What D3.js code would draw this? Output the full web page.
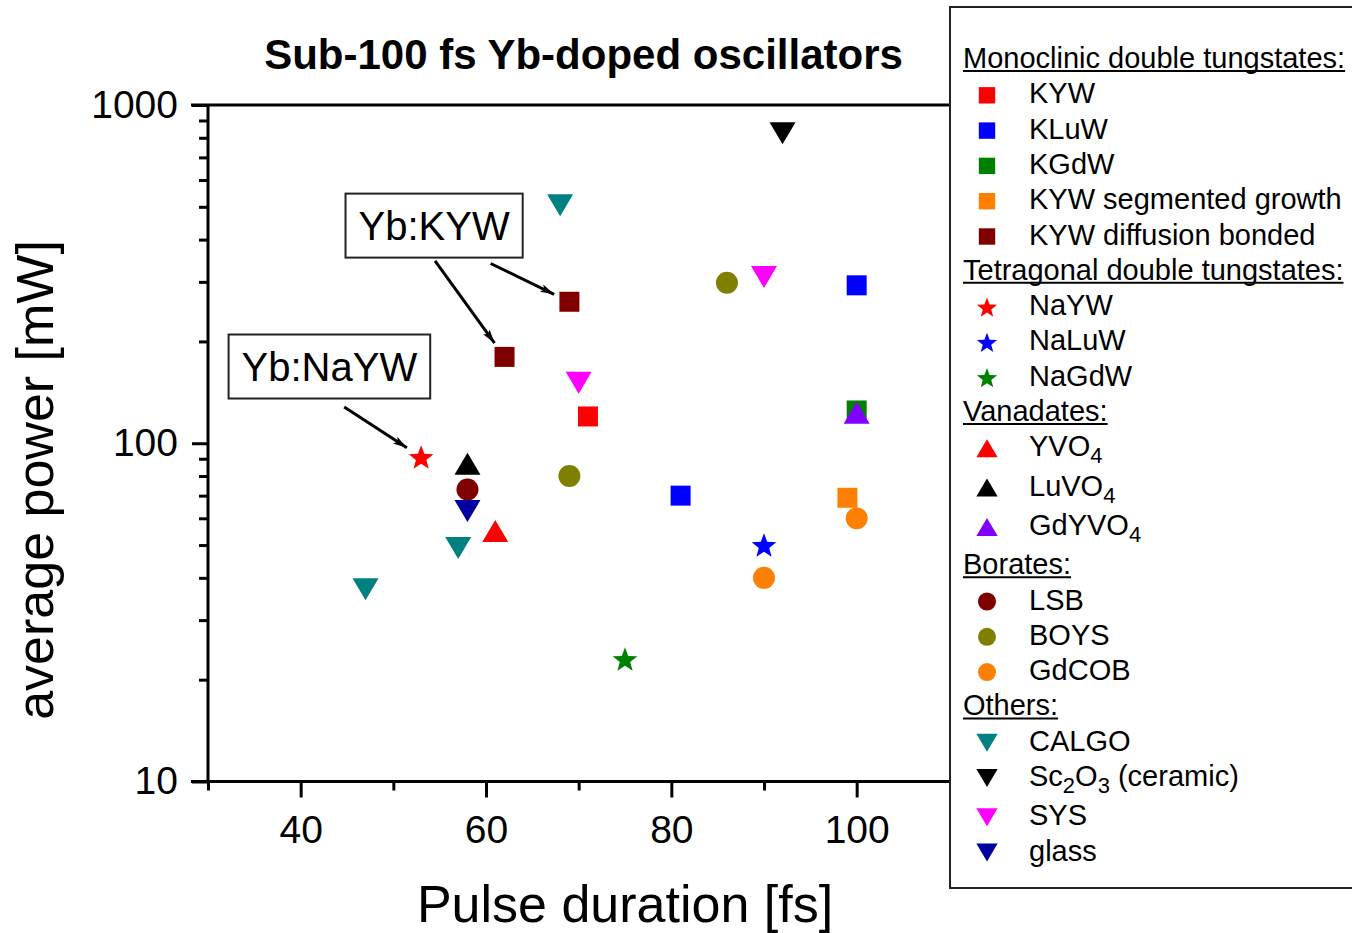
<!DOCTYPE html>
<html>
<head>
<meta charset="utf-8">
<script src="https://cdn.jsdelivr.net/npm/d3@7"></script>
<style>
  html, body { margin: 0; padding: 0; background: #fff; }
  svg { display: block; font-family: Arial, "Liberation Sans", sans-serif; }
</style>
</head>
<body>
<svg id="chart" width="1352" height="933"></svg>
<script>
// Series (legend order) and their measured points: pulse duration [fs], average power [mW]
const seriesNames = [
  "KYW", "KLuW", "KGdW", "KYW segmented growth", "KYW diffusion bonded",
  "NaYW", "NaLuW", "NaGdW",
  "YVO4", "LuVO4", "GdYVO4",
  "LSB", "BOYS", "GdCOB",
  "CALGO", "Sc2O3 (ceramic)", "SYS", "glass"
];
const seriesGroups = [
  "Monoclinic double tungstates:", "Monoclinic double tungstates:", "Monoclinic double tungstates:",
  "Monoclinic double tungstates:", "Monoclinic double tungstates:",
  "Tetragonal double tungstates:", "Tetragonal double tungstates:", "Tetragonal double tungstates:",
  "Vanadates:", "Vanadates:", "Vanadates:",
  "Borates:", "Borates:", "Borates:",
  "Others:", "Others:", "Others:", "Others:"
];
const seriesShapes = [
  "square", "square", "square", "square", "square",
  "star", "star", "star",
  "up", "up", "up",
  "circle", "circle", "circle",
  "down", "down", "down", "down"
];
const seriesColors = [
  "#ff0000", "#0000ff", "#008000", "#ff8000", "#800000",
  "#ff0000", "#0000ff", "#008000",
  "#ff0000", "#000000", "#8000ff",
  "#800000", "#808000", "#ff8000",
  "#008080", "#000000", "#ff00ff", "#0000a0"
];
const pulseFs = [
  [71], [81, 100], [100], [99], [62, 69],
  [53], [90], [75],
  [61], [58], [100],
  [58], [69, 86], [90, 100],
  [68, 57, 47], [92], [70, 90], [58]
];
const powerMw = [
  [120], [70, 293], [125], [69], [180, 262],
  [91], [50], [23],
  [55], [87], [123],
  [73], [80, 298], [40, 60],
  [505, 49, 37], [825], [151, 310], [63]
];

// Axis ticks (the part of the axis beyond 100 fs sits under the legend)
const xMajorTicks = [40, 60, 80, 100];
const xMinorTicks = [30, 50, 70, 90];
const yMajorTicks = [10, 100, 1000];
const yMinorTicks = [20, 30, 40, 50, 60, 70, 80, 90, 200, 300, 400, 500, 600, 700, 800, 900];

// Annotations: label box centre in data units, arrows from a tail point to a data point
const annoLabels = ["Yb:KYW", "Yb:NaYW"];
const annoX = [54.4, 43.1];
const annoY = [440, 168.6];
const arrowTailX = [54.5, 60.5, 44.7];
const arrowTailY = [346, 340, 128];
const arrowTargetX = [62, 69, 53];
const arrowTargetY = [180, 262, 91];

const svg = d3.select("#chart");
const plotL = 208, plotR = 1042, plotT = 105, plotB = 781.5;

const x = d3.scaleLinear().domain([30, 120]).range([plotL, plotR]);
const y = d3.scaleLog().domain([10, 1000]).range([plotB, plotT]);

// symbol outlines centred on (0,0)
function shapePath(shape, k) {
  if (shape === "square") {
    const s = 20 * k;
    return `M${-s/2},${-s/2}h${s}v${s}h${-s}Z`;
  }
  if (shape === "circle") {
    const r = 11 * k;
    return `M${-r},0a${r},${r} 0 1,0 ${2*r},0a${r},${r} 0 1,0 ${-2*r},0Z`;
  }
  if (shape === "up" || shape === "down") {
    const w = 26 * k, h = 22 * k, s = shape === "up" ? 1 : -1;
    return `M0,${-s*h/2}L${w/2},${s*h/2}L${-w/2},${s*h/2}Z`;
  }
  // five-pointed star
  const R = 13 * k, r = R * 0.42;
  const pts = [];
  for (let i = 0; i < 10; i++) {
    const a = -Math.PI / 2 + i * Math.PI / 5;
    const rr = i % 2 === 0 ? R : r;
    pts.push([rr * Math.cos(a), rr * Math.sin(a) + R * 0.09]);
  }
  return "M" + pts.map(p => p.join(",")).join("L") + "Z";
}

// Axes frame: top and right border
svg.append("line").attr("x1", plotL - 17).attr("x2", plotR).attr("y1", plotT).attr("y2", plotT)
  .attr("stroke", "#000").attr("stroke-width", 3);
svg.append("line").attr("x1", plotR).attr("x2", plotR).attr("y1", plotT).attr("y2", plotB)
  .attr("stroke", "#000").attr("stroke-width", 3);

// Bottom axis (major + minor)
const xAxisG = svg.append("g").attr("transform", `translate(0,${plotB})`);
xAxisG.call(d3.axisBottom(x).tickValues(xMajorTicks).tickSize(16).tickPadding(18).tickFormat(d3.format("d")));
const xMinorG = svg.append("g").attr("transform", `translate(0,${plotB})`);
xMinorG.call(d3.axisBottom(x).tickValues(xMinorTicks).tickSize(9).tickFormat(""));

// Left axis (major + minor)
const yAxisG = svg.append("g").attr("transform", `translate(${plotL},0)`);
yAxisG.call(d3.axisLeft(y).tickValues(yMajorTicks).tickSize(16).tickPadding(14).tickFormat(d3.format("d")));
const yMinorG = svg.append("g").attr("transform", `translate(${plotL},0)`);
yMinorG.call(d3.axisLeft(y).tickValues(yMinorTicks).tickSize(9).tickFormat(""));

[xAxisG, xMinorG, yAxisG, yMinorG].forEach(g => {
  g.select(".domain").attr("stroke-width", 3).attr("stroke", "#000");
  g.selectAll(".tick line").attr("stroke-width", 3).attr("stroke", "#000");
  g.selectAll(".tick text").attr("font-size", 39).attr("fill", "#000")
    .attr("font-family", "Arial, 'Liberation Sans', sans-serif");
});
xMinorG.select(".domain").remove();
yMinorG.select(".domain").remove();
// extend the axis lines under the corner ticks
xAxisG.select(".domain").attr("d", `M${plotL - 17},0H${plotR}`);
yAxisG.select(".domain").attr("d", `M0,${plotT}V${plotB}`);

// Data points
const points = [];
seriesNames.forEach((name, i) => {
  pulseFs[i].forEach((px, j) => points.push({ i, px, pw: powerMw[i][j] }));
});
svg.append("g").selectAll("path").data(points).join("path")
  .attr("d", d => shapePath(seriesShapes[d.i], 1))
  .attr("transform", d => `translate(${x(d.px)},${y(d.pw)})`)
  .attr("fill", d => seriesColors[d.i]);

// Annotation arrows
const defs = svg.append("defs");
defs.append("marker").attr("id", "head").attr("viewBox", "0 0 14 10")
  .attr("refX", 14).attr("refY", 5).attr("markerWidth", 14).attr("markerHeight", 10)
  .attr("markerUnits", "userSpaceOnUse").attr("orient", "auto")
  .append("path").attr("d", "M0,1L14,5L0,9L3,5Z").attr("fill", "#000");

arrowTailX.forEach((tx, k) => {
  const x0 = x(tx), y0 = y(arrowTailY[k]);
  const xt = x(arrowTargetX[k]), yt = y(arrowTargetY[k]);
  const dx = xt - x0, dy = yt - y0, len = Math.hypot(dx, dy);
  const gap = 17;
  svg.append("line")
    .attr("x1", x0).attr("y1", y0)
    .attr("x2", x0 + dx * (len - gap) / len).attr("y2", y0 + dy * (len - gap) / len)
    .attr("stroke", "#000").attr("stroke-width", 3)
    .attr("marker-end", "url(#head)");
});

// Annotation boxes
annoLabels.forEach((label, k) => {
  const cx = x(annoX[k]), cy = y(annoY[k]);
  const g = svg.append("g");
  const t = g.append("text").attr("x", cx).attr("y", cy + 14).attr("text-anchor", "middle")
    .attr("font-size", 40).attr("fill", "#000").text(label);
  const w = t.node().getComputedTextLength() + 26, h = 64;
  g.insert("rect", "text").attr("x", cx - w / 2).attr("y", cy - h / 2).attr("width", w).attr("height", h)
    .attr("fill", "#fff").attr("stroke", "#222").attr("stroke-width", 2);
});

// Title and axis titles
svg.append("text").attr("x", 583.5).attr("y", 69).attr("text-anchor", "middle")
  .attr("font-size", 42).attr("font-weight", "bold").attr("fill", "#000")
  .text("Sub-100 fs Yb-doped oscillators");
svg.append("text").attr("x", (plotL + plotR) / 2).attr("y", 922).attr("text-anchor", "middle")
  .attr("font-size", 52).attr("fill", "#000").text("Pulse duration [fs]");
svg.append("text").attr("transform", "translate(53,480) rotate(-90)").attr("text-anchor", "middle")
  .attr("font-size", 52).attr("fill", "#000").text("average power [mW]");

// Legend
const legend = svg.append("g");
legend.append("rect").attr("x", 950).attr("y", 7).attr("width", 420).attr("height", 881)
  .attr("fill", "#fff").attr("stroke", "#222").attr("stroke-width", 2);

const rows = [];
let prevGroup = null;
seriesNames.forEach((name, i) => {
  if (seriesGroups[i] !== prevGroup) { rows.push({ header: seriesGroups[i] }); prevGroup = seriesGroups[i]; }
  rows.push({ i });
});
let rowY = 60;
rows.forEach(row => {
  let extra = 0;
  if (row.header) {
    const t = legend.append("text").attr("x", 963).attr("y", rowY + 8).attr("font-size", 29)
      .attr("fill", "#000").text(row.header);
    const w = t.node().getComputedTextLength();
    legend.append("line").attr("x1", 963).attr("x2", 963 + w).attr("y1", rowY + 11).attr("y2", rowY + 11)
      .attr("stroke", "#000").attr("stroke-width", 2);
  } else {
    const i = row.i;
    legend.append("path").attr("d", shapePath(seriesShapes[i], 0.82))
      .attr("transform", `translate(987,${rowY})`).attr("fill", seriesColors[i]);
    const t = legend.append("text").attr("x", 1029).attr("y", rowY + 8).attr("font-size", 29).attr("fill", "#000");
    // chemical formulas: single digits are set as subscripts
    seriesNames[i].split(/(\d)/).filter(s => s.length).forEach(p => {
      const span = t.append("tspan").text(p);
      if (/^\d$/.test(p)) {
        span.attr("font-size", 22).attr("baseline-shift", -7);
        extra = 4;
      }
    });
  }
  rowY += 35.3 + extra;
});
</script>
</body>
</html>
